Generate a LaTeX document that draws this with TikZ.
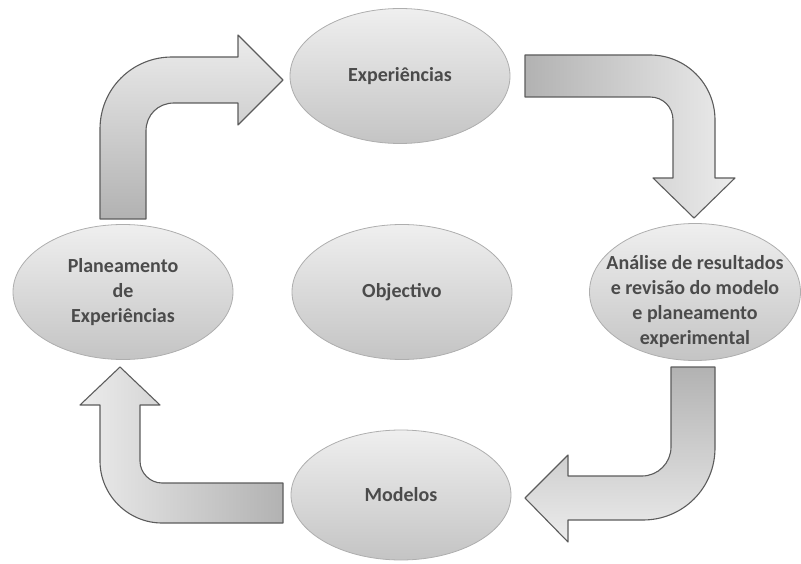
\documentclass[tikz,border=0pt]{standalone}
\usepackage{fontspec}
\setmainfont{Carlito}
\usetikzlibrary{shapes.geometric}
\definecolor{arrowdark}{HTML}{B2B2B2}
\definecolor{arrowlight}{HTML}{ECECEC}
\definecolor{arrowedge}{HTML}{5C5C5C}
\definecolor{bubbletop}{HTML}{EFEFEF}
\definecolor{bubblebottom}{HTML}{C4C4C4}
\definecolor{bubbleedge}{HTML}{AEAEAE}
\definecolor{labeltext}{HTML}{4B4B4B}
\begin{document}
\begin{tikzpicture}[x=1pt,y=-1pt,bubble/.style={ellipse, draw=bubbleedge, line width=0.8pt, top color=bubbletop, bottom color=bubblebottom, inner sep=0pt, minimum width=220pt, minimum height=135pt, align=center, text=labeltext, font=\fontsize{20}{25}\selectfont\bfseries},bubbletext/.style={align=center, text=labeltext, font=\fontsize{20}{25}\selectfont\bfseries},blockarrow/.style={draw=arrowedge, line width=1.1pt, line join=round}]
\useasboundingbox (0,0) rectangle (801,564);
\node[bubble] (exp) at (400,76) {Experiências};
\node[bubble] (plan) at (123,292) {Planeamento\\de\\Experiências};
\node[bubble] (obj) at (402,292) {Objectivo};
\node[bubble, minimum width=211pt, minimum height=137pt] (ana) at (695,292) {};
\node[bubbletext] (anatext) at ([yshift=-10pt]ana.center) {Análise de resultados\\e revisão do modelo\\e planeamento\\experimental};
\node[bubble, minimum height=130pt] (mod) at (401,495) {Modelos};
% arrows round the cycle
\draw[blockarrow, top color=arrowlight, bottom color=arrowdark] (100,219) -- (100,129) .. controls (100,89) and (132,57) .. (172,57) -- (238,57) -- (238,35) -- (283,80) -- (238,125) -- (238,103) -- (174,103) .. controls (158,103) and (146,115) .. (146,131) -- (146,219) -- cycle;
\draw[blockarrow, left color=arrowdark, right color=arrowlight] (525,55) -- (650,55) .. controls (686,55) and (715,84) .. (715,120) -- (715,178) -- (735,178) -- (694,218) -- (653,178) -- (673,178) -- (673,120) .. controls (673,107) and (663,97) .. (650,97) -- (525,97) -- cycle;
\draw[blockarrow, top color=arrowdark, bottom color=arrowlight] (671,367) -- (715,367) -- (715,448) .. controls (715,488) and (683,520) .. (643,520) -- (568,520) -- (568,542) -- (525,498) -- (568,455) -- (568,476) -- (642,476) .. controls (658,476) and (671,463) .. (671,447) -- cycle;
\draw[blockarrow, right color=arrowdark, left color=arrowlight] (283,483) -- (283,523) -- (162,523) .. controls (128,523) and (100,495) .. (100,461) -- (100,405) -- (80,405) -- (120,367) -- (160,405) -- (140,405) -- (140,461) .. controls (140,473) and (150,483) .. (162,483) -- cycle;
\end{tikzpicture}
\end{document}
